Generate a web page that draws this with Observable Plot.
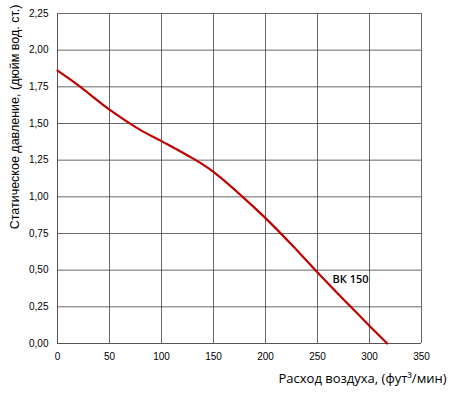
<!DOCTYPE html>
<html><head><meta charset="utf-8">
<script src="https://cdn.jsdelivr.net/npm/d3@7"></script>
<script src="https://cdn.jsdelivr.net/npm/@observablehq/plot@0.6"></script>
<style>body{margin:0;background:#fff}</style>
</head><body><div id="chart"></div>
<script>
const flow = [0, 20, 50, 80, 100, 133, 150, 178, 200, 225, 248, 282, 300, 317];
const pressure = [1.86, 1.76, 1.595, 1.455, 1.38, 1.25, 1.17, 1.00, 0.855, 0.675, 0.50, 0.25, 0.12, 0.00];
const xTicks = [0, 50, 100, 150, 200, 250, 300, 350];
const yTicks = [0, 0.25, 0.5, 0.75, 1, 1.25, 1.5, 1.75, 2, 2.25];
const seriesLabel = "ВК 150";
const xTitle = "Расход воздуха, (фут³/мин)";
const yTitle = "Статическое давление, (дюйм вод. ст.)";

const data = flow.map((f, i) => ({f, p: pressure[i]}));
const fmt = d => d.toFixed(2).replace(".", ",");

const chart = Plot.plot({
  width: 450, height: 394,
  marginLeft: 57, marginRight: 29, marginTop: 13, marginBottom: 51,
  style: {fontFamily: "Liberation Sans, Arial, sans-serif", fontSize: "10px", color: "#000"},
  x: {domain: [0, 350], ticks: xTicks, label: null},
  y: {domain: [0, 2.25], ticks: yTicks, label: null, tickFormat: fmt},
  marks: [
    Plot.gridX(xTicks, {stroke: "#444", strokeOpacity: 0.8, strokeWidth: 1}),
    Plot.gridY(yTicks, {stroke: "#444", strokeOpacity: 0.8, strokeWidth: 1}),
    Plot.axisX(xTicks, {tickSize: 0, tickPadding: 9, fontSize: 10}),
    Plot.axisY(yTicks, {tickSize: 0, tickPadding: 9, tickFormat: fmt, fontSize: 10}),
    Plot.ruleX([0], {stroke: "#555"}),
    Plot.ruleY([0], {stroke: "#555"}),
    Plot.line(data, {x: "f", y: "p", stroke: "#c00000", strokeWidth: 2.2, curve: "catmull-rom"}),
    Plot.text([seriesLabel], {x: 250, y: 0.5, text: d => d, dx: 15, dy: 9, textAnchor: "start", fontFamily: "Open Sans, sans-serif", fontSize: 11, fontWeight: 600}),
    Plot.text([xTitle], {frameAnchor: "bottom-right", text: d => d, dx: 25, dy: 39, textAnchor: "end", fontFamily: "Open Sans, sans-serif", fontSize: 13}),
    Plot.text([yTitle], {frameAnchor: "top-left", text: d => d, dx: -47, dy: -9, textAnchor: "end", rotate: -90, fontFamily: "Liberation Sans, Arial, sans-serif", fontSize: 12.5})
  ]
});
document.getElementById("chart").append(chart);
</script></body></html>
